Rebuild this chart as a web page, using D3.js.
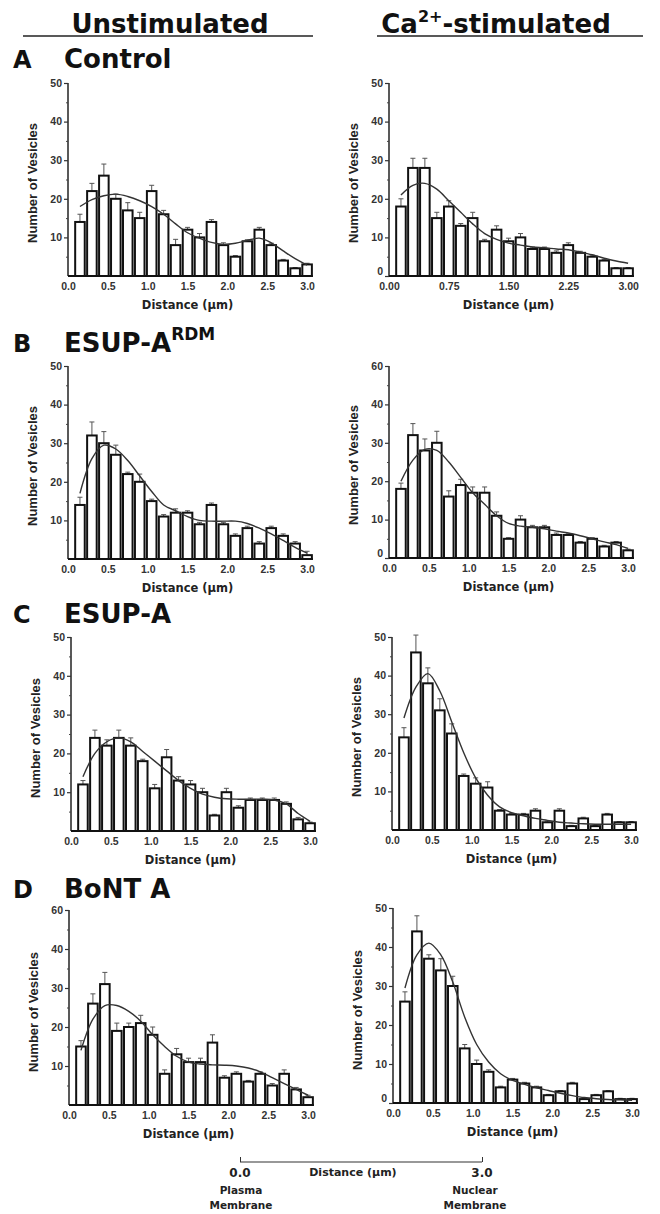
<!DOCTYPE html>
<html><head><meta charset="utf-8">
<script src="https://cdn.jsdelivr.net/npm/d3@7"></script>
<style>
html,body{margin:0;padding:0;background:#fff;}
svg{display:block;}
</style></head>
<body>
<svg id="chart" width="660" height="1214"></svg>
<script>
// ---------- DATA ----------
const bins = [0.15,0.30,0.45,0.60,0.75,0.90,1.05,1.20,1.35,1.50,1.65,1.80,1.95,2.10,2.25,2.40,2.55,2.70,2.85,3.00];

const controlUnstimCounts = [14,22,26,20,17,15,22,16,8,12,10,14,8,5,9,12,8,4,2,3];
const controlUnstimErr    = [2,2,3,1.2,2,1.5,1.5,1,1.5,0.6,1,0.6,0.6,0.3,0.4,0.6,0.5,0.3,0.2,0.3];
const controlUnstimFit    = [18,19.8,20.8,21.2,20.6,19.5,18,16,13.5,11.2,9.8,8.7,8.2,8.5,9.2,9.8,8.6,6.5,4.5,2.8];

const controlCaCounts = [18,28,28,15,18,13,15,9,12,9,10,7,7,6,8,6,5,4,2,2];
const controlCaErr    = [2,2.5,2.5,1.5,1.5,0.6,1.5,0.5,1,0.8,1,0.5,0.5,0.5,0.6,0.4,0.4,0.3,0.2,0.2];
const controlCaFit    = [21,23.5,24,22.5,19.5,16.5,13.5,11,9.5,8.5,8,7.5,7.3,7,6.8,6.2,5.5,4.6,3.9,3.3];

const rdmUnstimCounts = [14,32,30,27,22,20,15,11,12,12,9,14,9,6,8,4,8,6,4,1];
const rdmUnstimErr    = [2,3.5,3,2.5,0.5,2,0.5,0.5,1,0.5,0.5,0.5,0.5,0.5,0.5,0.5,0.5,0.5,0.5,1];
const rdmUnstimFit    = [17,26,29.5,28.5,25.5,21.5,17.5,14,12.5,11,10,9.8,9.8,9.8,9.2,8,6.5,4.8,3,1.5];

const rdmCaCounts = [18,32,28,30,16,19,17,17,11,5,10,8,8,6,6,4,5,3,4,2];
const rdmCaErr    = [1.5,3,3,3,1.5,1.5,1.5,1.5,1,0.3,1,0.5,0.5,0.5,0.3,0.3,0.3,0.3,0.3,0.3];
const rdmCaFit    = [20,25.5,28.3,28,25,21,17,14,11,9,8.3,8,7.6,7,6.5,5.8,5,4.2,3.5,2.5];

const esupUnstimCounts = [12,24,22,24,22,18,11,19,13,12,10,4,10,6,8,8,8,7,3,2];
const esupUnstimErr    = [1,2,1.5,2,2,0.5,1,2,1,1,1,0.3,1,0.5,0.5,0.5,0.5,0.5,0.5,0.3];
const esupUnstimFit    = [14,20,23,24,23,20.5,18,15.5,13,11,9.5,8.7,8.3,8.2,8.2,8.2,8,7,4.5,2.5];

const esupCaCounts = [24,46,38,31,25,14,12,11,5,4,4,5,2,5,1,3,1,4,2,2];
const esupCaErr    = [2.5,4.5,4,3,2.5,0.5,1.5,1.5,0.3,0.3,0.3,0.5,0.3,0.5,0.2,0.3,0.2,0.3,0.2,0.2];
const esupCaFit    = [29,37,40.5,36,28,20,13.5,9,6,4.5,3.7,3,2.5,2,1.8,1.6,1.5,1.5,1.5,1.5];

const bontUnstimCounts = [15,26,31,19,20,21,18,8,13,11,11,16,7,8,6,8,5,8,4,2];
const bontUnstimErr    = [1.5,2.5,3,2,1,2,2,1,1.5,1,1,2,0.5,0.5,0.3,0.5,0.5,1,0.5,0.5];
const bontUnstimFit    = [14,22,25.5,25.5,24,21.5,18,15,12.5,11,10.5,10.3,10.2,10,9.5,8.5,7,5.5,4,2.5];

const bontCaCounts = [26,44,37,34,30,14,10,8,4,6,5,4,2,3,5,1,2,3,1,1];
const bontCaErr    = [2.5,4,1,3,2.5,1,1,0.5,0.3,0.3,0.3,0.3,0.2,0.2,0.3,0.2,0.2,0.2,0.2,0.2];
const bontCaFit    = [29.5,38,41,38,31,22,15,10.5,7.5,5.8,4.8,3.9,3.2,2.5,1.9,1.4,1.1,0.9,0.8,0.7];

const xTickValues      = [0,0.5,1,1.5,2,2.5,3];
const xTickLabels      = ["0.0","0.5","1.0","1.5","2.0","2.5","3.0"];
const xTickValuesQ     = [0,0.75,1.5,2.25,3];
const xTickLabelsQ     = ["0.00","0.75","1.50","2.25","3.00"];
const yTickValues      = [10,20,30,40,50];
const yTickValuesZero  = [0,10,20,30,40,50];
const yLabels50        = ["10","20","30","40","50"];
const yLabels50Zero    = ["0","10","20","30","40","50"];
const yLabels60        = ["10","20","30","40","60"];
const yLabels60Zero    = ["0","10","20","30","40","60"];
const yMinorValues     = [5,15,25,35,45];

const columnTitles = ["Unstimulated", "Ca"];
const rowLetters = ["A","B","C","D"];
const rowNames = ["Control","ESUP-A","ESUP-A","BoNT A"];

// ---------- LAYOUT ----------
const svg = d3.select("#chart");
const FONT = "'Liberation Sans', Arial, Helvetica, sans-serif";
const WIDE = "'DejaVu Sans', Verdana, sans-serif";
const PX = 79.7;

const panels = [
  {ax:68,  y0:276,  y50:83,  c:controlUnstimCounts, e:controlUnstimErr, f:controlUnstimFit, xt:xTickValues, xl:xTickLabels, yt:yTickValues, yl:yLabels50},
  {ax:389, y0:276,  y50:83,  c:controlCaCounts, e:controlCaErr, f:controlCaFit, xt:xTickValuesQ, xl:xTickLabelsQ, yt:yTickValuesZero, yl:yLabels50Zero},
  {ax:68,  y0:559,  y50:366, c:rdmUnstimCounts, e:rdmUnstimErr, f:rdmUnstimFit, xt:xTickValues, xl:xTickLabels, yt:yTickValues, yl:yLabels50},
  {ax:389, y0:558,  y50:366, c:rdmCaCounts, e:rdmCaErr, f:rdmCaFit, xt:xTickValues, xl:xTickLabels, yt:yTickValuesZero, yl:yLabels60Zero},
  {ax:71,  y0:831,  y50:637, c:esupUnstimCounts, e:esupUnstimErr, f:esupUnstimFit, xt:xTickValues, xl:xTickLabels, yt:yTickValues, yl:yLabels50},
  {ax:392, y0:830,  y50:637, c:esupCaCounts, e:esupCaErr, f:esupCaFit, xt:xTickValues, xl:xTickLabels, yt:yTickValues, yl:yLabels50},
  {ax:69,  y0:1105, y50:910, c:bontUnstimCounts, e:bontUnstimErr, f:bontUnstimFit, xt:xTickValues, xl:xTickLabels, yt:yTickValues, yl:yLabels60},
  {ax:393, y0:1103, y50:908, c:bontCaCounts, e:bontCaErr, f:bontCaFit, xt:xTickValues, xl:xTickLabels, yt:yTickValuesZero, yl:yLabels50Zero}
];

panels.forEach(p => {
  const x = d3.scaleLinear().domain([0,3]).range([p.ax, p.ax + 3*PX]);
  const y = d3.scaleLinear().domain([0,50]).range([p.y0, p.y50]);
  const g = svg.append("g");
  const bw = 0.15*PX*0.8;

  // error bars
  const eg = g.append("g").attr("stroke","#555").attr("stroke-width",1);
  bins.forEach((b,i) => {
    const top = y(p.c[i]), et = y(p.c[i] + p.e[i]);
    eg.append("line").attr("x1",x(b)).attr("x2",x(b)).attr("y1",top).attr("y2",et);
    eg.append("line").attr("x1",x(b)-2.5).attr("x2",x(b)+2.5).attr("y1",et).attr("y2",et);
  });

  // bars
  g.append("g").selectAll("rect").data(bins).join("rect")
    .attr("x", d => x(d) - bw/2)
    .attr("width", bw)
    .attr("y", (d,i) => y(p.c[i]))
    .attr("height", (d,i) => p.y0 - y(p.c[i]))
    .attr("fill","#fff").attr("stroke","#111").attr("stroke-width",2);

  // fit curve
  g.append("path")
    .datum(bins.map((b,i) => [b, p.f[i]]))
    .attr("fill","none").attr("stroke","#333").attr("stroke-width",1.4)
    .attr("d", d3.line().x(d => x(d[0])).y(d => y(d[1])).curve(d3.curveCatmullRom.alpha(0.5)));

  // y axis
  const yAxis = d3.axisLeft(y).tickValues(p.yt).tickSize(4).tickPadding(2)
      .tickFormat((d,i) => p.yl[i]);
  const ya = g.append("g").attr("transform",`translate(${p.ax},0)`).call(yAxis);
  ya.select(".domain").attr("d",`M-0,${p.y50}V${p.y0}`).attr("stroke","#222").attr("stroke-width",1.5);
  ya.selectAll(".tick line").attr("stroke","#333").attr("stroke-width",1.2);
  ya.selectAll(".tick text").attr("font-family",FONT).attr("font-weight","bold").attr("font-size",10.5).attr("fill","#333")
    .attr("dy", d => d === 0 ? "-0.1em" : "0.32em");
  const yMinor = d3.axisLeft(y).tickValues(yMinorValues).tickSize(2).tickFormat("");
  const ym = g.append("g").attr("transform",`translate(${p.ax},0)`).call(yMinor);
  ym.select(".domain").remove();
  ym.selectAll(".tick line").attr("stroke","#444");

  // x axis
  const xAxis = d3.axisBottom(x).tickValues(p.xt).tickSize(0).tickPadding(5)
      .tickFormat((d,i) => p.xl[i]);
  const xa = g.append("g").attr("transform",`translate(0,${p.y0})`).call(xAxis);
  xa.select(".domain").attr("d",`M${p.ax},0H${x(3)+bw/2+1}`).attr("stroke","#111").attr("stroke-width",1.8);
  xa.selectAll(".tick text").attr("font-family",FONT).attr("font-weight","bold").attr("font-size",10.5).attr("fill","#333")
    .attr("dy", "0.85em");

  // axis titles
  g.append("text").attr("x", x(1.5)).attr("y", p.y0 + 33).attr("text-anchor","middle")
    .attr("font-family",WIDE).attr("font-weight","bold").attr("font-size",11.5).attr("fill","#222")
    .text("Distance (\u03bcm)");
  g.append("text").attr("transform",`translate(${p.ax-31},${p.y0-93}) rotate(-90)`).attr("text-anchor","middle")
    .attr("font-family",FONT).attr("font-weight","bold").attr("font-size",13).attr("fill","#222")
    .text("Number of Vesicles");
});

// ---------- HEADERS ----------
svg.append("text").attr("x",170).attr("y",33).attr("text-anchor","middle")
  .attr("font-family",WIDE).attr("font-weight","bold").attr("font-size",26).attr("fill","#111")
  .text(columnTitles[0]);
const ca = svg.append("text").attr("x",496).attr("y",33).attr("text-anchor","middle")
  .attr("font-family",WIDE).attr("font-weight","bold").attr("font-size",26).attr("fill","#111");
ca.append("tspan").text(columnTitles[1]);
ca.append("tspan").attr("dy",-11).attr("font-size",16).text("2+");
ca.append("tspan").attr("dy",11).text("-stimulated");
svg.append("line").attr("x1",23).attr("x2",313).attr("y1",36).attr("y2",36).attr("stroke","#222").attr("stroke-width",1.5);
svg.append("line").attr("x1",377).attr("x2",643).attr("y1",36).attr("y2",36).attr("stroke","#222").attr("stroke-width",1.5);

const rowBaselines = [68, 352, 623, 898];
rowLetters.forEach((L,i) => {
  svg.append("text").attr("x",13).attr("y",rowBaselines[i])
    .attr("font-family",WIDE).attr("font-weight","bold").attr("font-size",24).attr("fill","#111").text(L);
  const t = svg.append("text").attr("x",64).attr("y",rowBaselines[i])
    .attr("font-family",WIDE).attr("font-weight","bold").attr("font-size",26).attr("fill","#111");
  t.append("tspan").text(rowNames[i]);
  if (i === 1) t.append("tspan").attr("dy",-12).attr("font-size",17).text("RDM");
});

// ---------- BOTTOM SCALE ----------
const sx = d3.scaleLinear().domain([0,3]).range([240,482]);
const sAxis = d3.axisTop(sx).tickValues([0,3]).tickSize(5).tickFormat("");
const sa = svg.append("g").attr("transform","translate(0,1162)").call(sAxis);
sa.select(".domain").attr("stroke","#333").attr("stroke-width",1.2).attr("d","M240,0H482");
sa.selectAll(".tick line").attr("stroke","#333");
[[0,"0.0"],[3,"3.0"]].forEach(([v,l]) => {
  svg.append("text").attr("x",sx(v)).attr("y",1177).attr("text-anchor","middle")
    .attr("font-family",WIDE).attr("font-weight","bold").attr("font-size",12).attr("fill","#222").text(l);
});
svg.append("text").attr("x",sx(1.4)).attr("y",1176).attr("text-anchor","middle")
  .attr("font-family",WIDE).attr("font-weight","bold").attr("font-size",11).attr("fill","#222").text("Distance (\u03bcm)");
[["Plasma","Membrane",241],["Nuclear","Membrane",475]].forEach(([a,b,xx]) => {
  svg.append("text").attr("x",xx).attr("y",1194).attr("text-anchor","middle")
    .attr("font-family",WIDE).attr("font-weight","bold").attr("font-size",10.5).attr("fill","#222").text(a);
  svg.append("text").attr("x",xx).attr("y",1209).attr("text-anchor","middle")
    .attr("font-family",WIDE).attr("font-weight","bold").attr("font-size",10.5).attr("fill","#222").text(b);
});
</script>
</body></html>
